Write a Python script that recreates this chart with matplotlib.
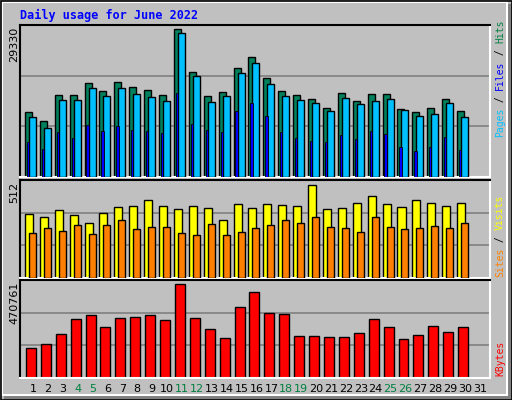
import matplotlib
matplotlib.use("Agg")
import matplotlib.pyplot as plt
from matplotlib.patches import Rectangle
import numpy as np

days = list(range(1, 32))
weekend = [4, 5, 11, 12, 18, 19, 25, 26]

hits = [12970, 11170, 16160, 16160, 18550, 16960, 18750, 17760, 17160, 16160,
        29330, 20750, 15960, 16760, 21550, 23740, 19550, 16960, 16160, 15560,
        13770, 16560, 15160, 16360, 16360, 13570, 12970, 13770, 15560, 13170]
files = [11800, 9800, 15200, 15200, 17600, 16000, 17600, 16400, 15800, 15000,
         28500, 20000, 14800, 16000, 20600, 22600, 18400, 16000, 15200, 14600,
         13000, 15600, 14400, 15000, 15400, 13200, 12000, 12400, 14600, 11800]
pages = [7000, 5600, 9000, 7800, 10400, 9200, 10200, 9400, 9200, 8800,
         16600, 10600, 9400, 9000, 13000, 14600, 12000, 9000, 7800, 7200,
         7000, 8400, 7600, 9200, 8600, 6000, 5200, 6000, 8000, 5400]
visits = [351, 334, 373, 346, 301, 357, 390, 396, 429, 396, 379, 396, 384, 318, 407,
          384, 407, 401, 396, 512, 379, 384, 412, 451, 407, 390, 429, 412, 396, 412]
sites = [246, 274, 257, 290, 240, 290, 318, 268, 279, 279, 246, 235, 296, 235, 251,
         274, 290, 318, 301, 334, 279, 274, 251, 334, 279, 268, 274, 285, 274, 301]
kbytes = [150000, 170700, 222400, 294800, 315500, 253400, 300000, 305200, 315500, 289600,
          470761, 300000, 243100, 201700, 356900, 429300, 325800, 320700, 212100, 212100,
          206900, 206900, 227600, 294800, 253400, 196500, 217200, 258600, 232700, 253400]

W, H = 512, 400
BG = "#C0C0C0"
fig = plt.figure(figsize=(W / 100, H / 100), dpi=100)
fig.patch.set_facecolor(BG)

# outer 3d frame
fig.patches.append(Rectangle((W - 5, 0), 4, H - 4, transform=None, color="#808080"))
fig.patches.append(Rectangle((4, 1), W - 5, 4, transform=None, color="#808080"))
fig.patches.append(Rectangle((1.5, 5), W - 7, H - 7, transform=None, fill=False,
                             edgecolor="white", lw=1.5))
fig.patches.append(Rectangle((0.5, 0.5), W - 1, H - 1, transform=None, fill=False,
                             edgecolor="black", lw=1.2))


def px_axes(top, bottom):
    return fig.add_axes([20 / W, 1 - bottom / H, 470 / W, (bottom - top) / H])


x = np.array(days[:30])


def style(ax, ymax):
    ax.set_facecolor(BG)
    ax.set_xlim(0.13, 31.67)
    ax.set_ylim(0, ymax)
    for v in (ymax / 3, 2 * ymax / 3):
        ax.axhline(v, color="#808080", lw=1.2, zorder=0)
    ax.set_xticks([])
    ax.set_yticks([])
    ax.spines["left"].set_color("black")
    ax.spines["top"].set_color("black")
    ax.spines["right"].set_color("white")
    ax.spines["bottom"].set_color("white")
    for s in ax.spines.values():
        s.set_linewidth(1.5)


kw = dict(edgecolor="black", linewidth=1, align="edge")

ax1 = px_axes(25, 177)
style(ax1, 30130)
ax1.bar(x - 0.54, hits, width=0.47, color="#00805C", **kw, zorder=2)
ax1.bar(x - 0.27, files, width=0.47, color="#00C0FF", **kw, zorder=3)
ax1.bar(x - 0.41, pages, width=0.15, color="#0000FF", edgecolor="black", linewidth=0.6,
        align="edge", zorder=4)

ax2 = px_axes(180, 278)
style(ax2, 538)
ax2.bar(x - 0.54, visits, width=0.54, color="#FFFF00", **kw, zorder=2)
ax2.bar(x - 0.27, sites, width=0.47, color="#FF8000", **kw, zorder=3)

ax3 = px_axes(280, 378)
style(ax3, 491000)
ax3.bar(x - 0.47, kbytes, width=0.67, color="#FF0000", **kw, zorder=2)

mono = "DejaVu Sans Mono"
fig.text(20 / W, 1 - 15 / H, "Daily usage for June 2022", color="#0000FF", family=mono,
         weight="bold", fontsize=8.5, va="center", ha="left")

for label, top in (("29330", 27), ("512", 182), ("470761", 282)):
    fig.text(14 / W, 1 - top / H, label, rotation=90, ha="center", va="top",
             fontsize=8, family="DejaVu Sans")

fs = 7
cw = 0.602 * fs * 100 / 72


def vlabel(y0, parts):
    y = y0
    for txt, col in parts:
        fig.text(500 / W, 1 - y / H, txt, rotation=90, ha="center", va="bottom",
                 color=col, family=mono, fontsize=fs)
        y -= len(txt) * cw


vlabel(137, [("Pages", "#00C0FF"), (" / ", "#000000"), ("Files", "#0000FF"),
             (" / ", "#000000"), ("Hits", "#008040")])
vlabel(277, [("Sites", "#FF8000"), (" / ", "#000000"), ("Visits", "#FFFF00")])
vlabel(376, [("KBytes", "#FF0000")])

for d in days:
    xpix = 33 + (d - 1) * 14.9
    fig.text(xpix / W, 1 - 389 / H, str(d), ha="center", va="center", fontsize=8,
             color="#008040" if d in weekend else "black")

fig.savefig("out.png", dpi=100, facecolor=BG)
